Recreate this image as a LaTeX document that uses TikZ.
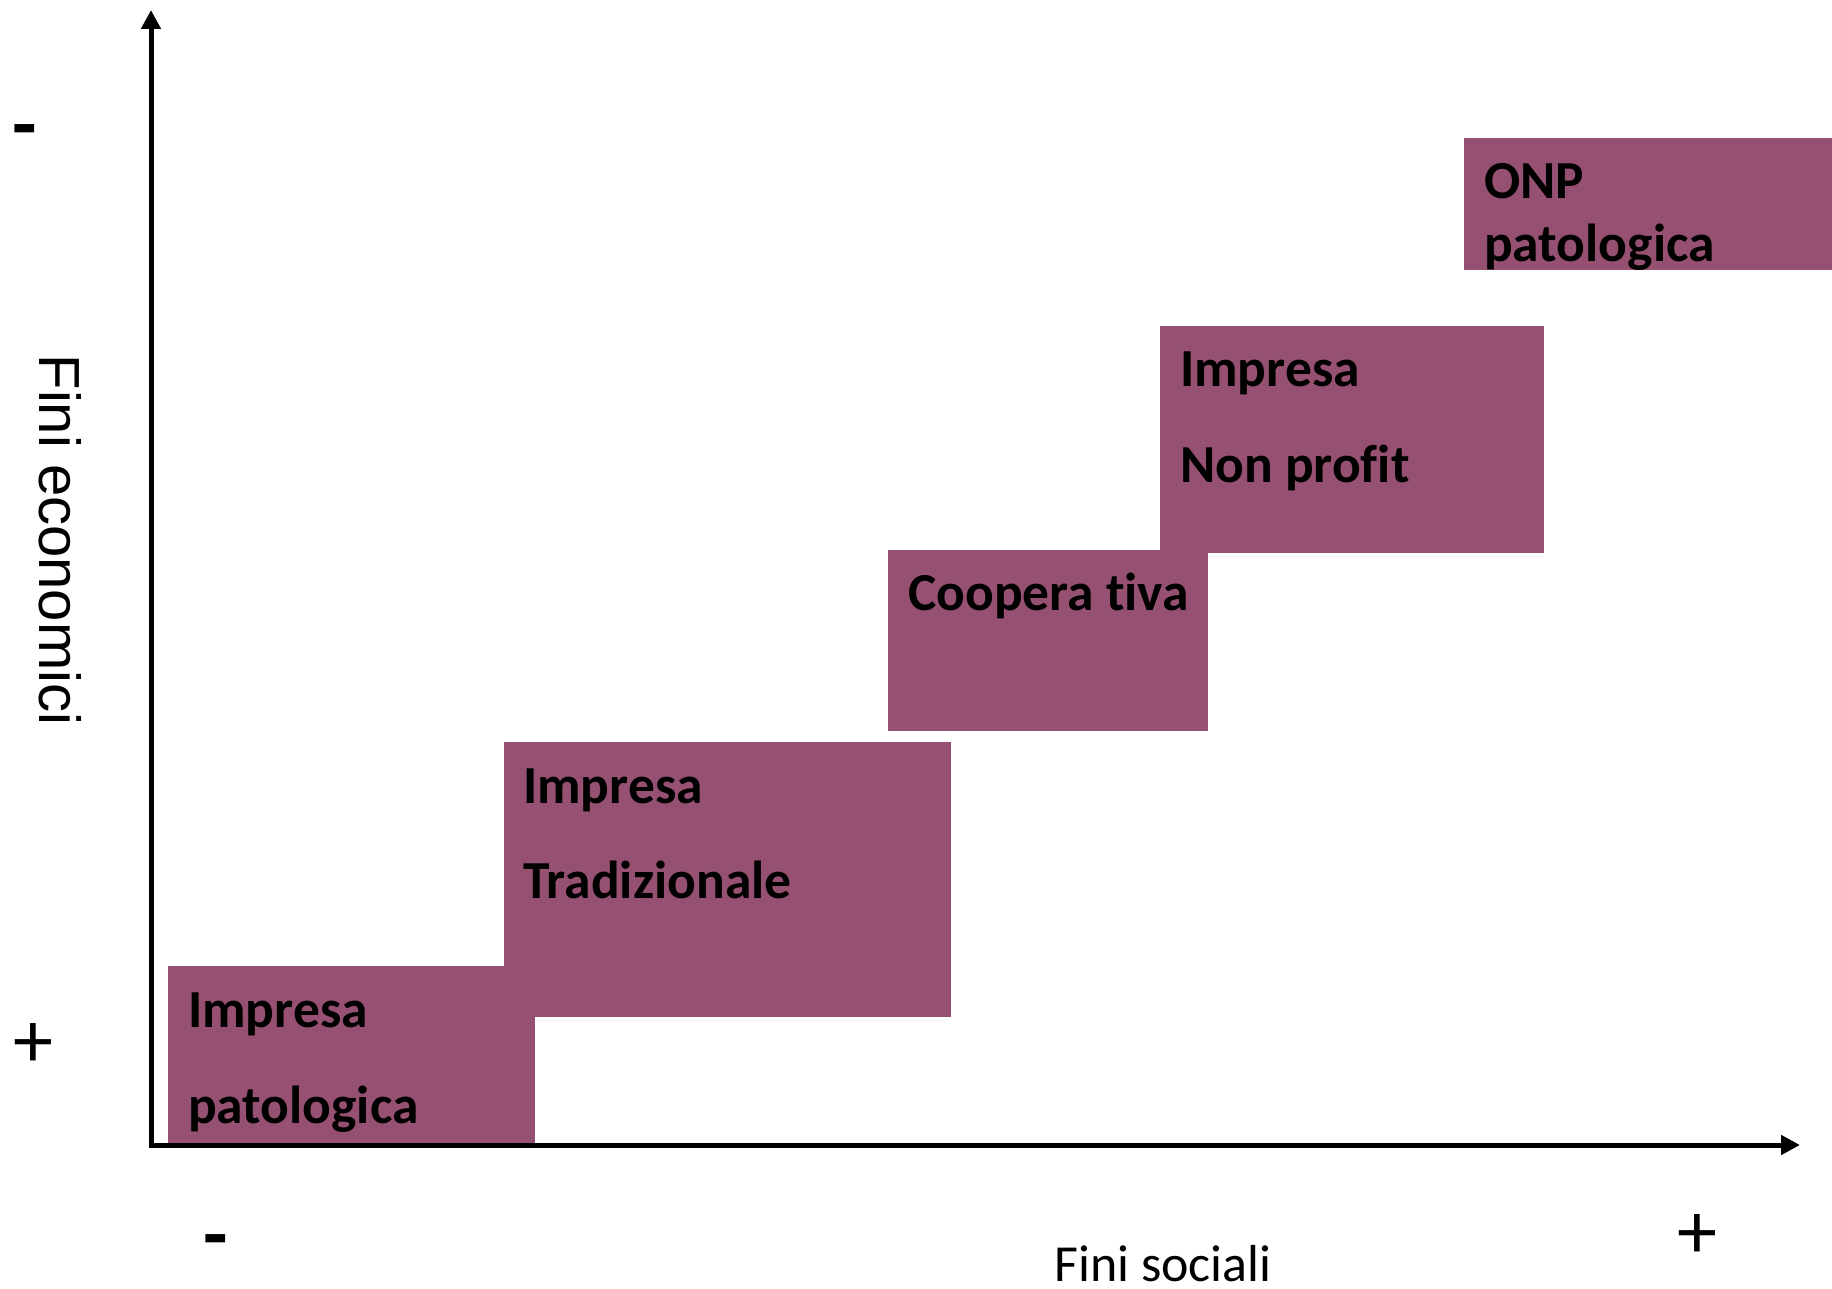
\documentclass[tikz,border=0pt]{standalone}
\usepackage{fontspec}
\setmainfont{Carlito}[Ligatures={NoCommon}]
\newfontfamily\arialf{Liberation Sans}
\usetikzlibrary{arrows.meta}
\definecolor{plum}{RGB}{150,80,113}
\begin{document}
\begin{tikzpicture}[x=1pt,y=-1pt,
  box/.style={fill=plum, draw=none, inner sep=0pt, outer sep=0pt, anchor=north west},
  lbl/.style={anchor=base west, inner sep=0pt, font=\fontsize{53.5}{60}\selectfont\bfseries},
  axisline/.style={line width=5pt, -{Triangle[length=19pt,width=19pt]}},
  sign/.style={anchor=base, inner sep=0pt, font=\fontsize{80}{90}\selectfont},
  bsign/.style={anchor=base, inner sep=0pt, font=\fontsize{80}{90}\selectfont\bfseries}
]
\useasboundingbox (0,0) rectangle (1832,1289);
% boxes
\node[box, minimum width=367pt, minimum height=177pt] (b1) at (168,966) {};
\node[box, minimum width=447pt, minimum height=275pt] (b2) at (504,742) {};
\node[box, minimum width=320pt, minimum height=181pt] (b3) at (888,550) {};
\node[box, minimum width=384pt, minimum height=227pt] (b4) at (1160,326) {};
\node[box, minimum width=368pt, minimum height=132pt] (b5) at (1464,138) {};
% box texts
\node[lbl] (t1a) at (188,1027) {Impresa};
\node[lbl] (t1b) at (188,1123) {patologica};
\node[lbl] (t2a) at (523,803) {Impresa};
\node[lbl] (t2b) at (523,898) {Tradizionale};
\node[lbl] (t3a) at (908,610) {Coopera tiva};
\node[lbl] (t4a) at (1180,386) {Impresa};
\node[lbl] (t4b) at (1180,482) {Non profit};
\node[lbl] (t5a) at (1484,199) {ONP};
\node[lbl] (t5b) at (1484,262) {patologica};
% axes
\coordinate (O) at (151,1145);
\coordinate (ytop) at (151,10);
\coordinate (xend) at (1800,1145);
\coordinate (ybot) at (151,1147.5);
\coordinate (xbeg) at (148.5,1145);
\draw[axisline] (ybot) -- (ytop);
\draw[axisline] (xbeg) -- (xend);
% axis labels
\node[rotate=-90, inner sep=0pt, font=\arialf\fontsize{58}{60}\selectfont] (ylab) at (60,540) {Fini economici};
\node[anchor=base, inner sep=0pt, font=\fontsize{52}{60}\selectfont] (xlab) at (1163,1281) {Fini sociali};
% signs
\node[bsign] (ym) at (25,152) {-};
\node[sign] (yp) at (33,1067) {+};
\node[bsign] (xm) at (216,1261) {-};
\node[sign] (xp) at (1697,1258) {+};
\end{tikzpicture}
\end{document}
